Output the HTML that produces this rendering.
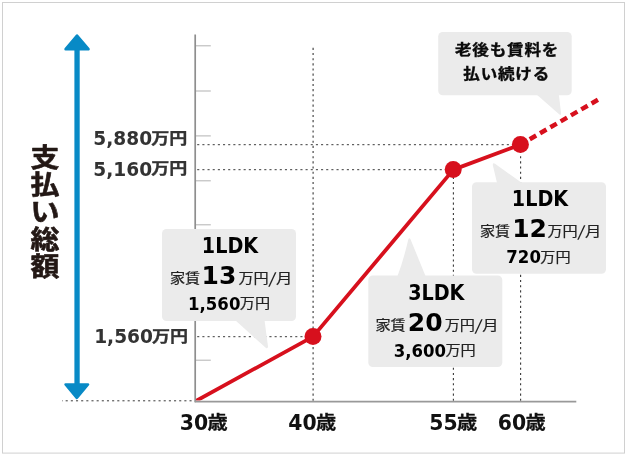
<!DOCTYPE html>
<html lang="ja">
<head>
<meta charset="utf-8">
<title>支払い総額</title>
<style>
html,body{margin:0;padding:0;background:#fff;}
body{width:627px;height:456px;overflow:hidden;}
svg{display:block;}
text{font-family:"DejaVu Sans","Noto Sans CJK JP",sans-serif;}
.lbl{font-weight:bold;font-size:18.6px;fill:#333;}
.lblj{font-family:"Noto Sans CJK JP",sans-serif;font-weight:bold;font-size:16px;fill:#333;stroke:#333;stroke-width:0.3px;}
.age{font-weight:bold;font-size:20.4px;fill:#111;}
.agej{font-family:"Noto Sans CJK JP",sans-serif;font-weight:bold;font-size:18.2px;fill:#111;stroke:#111;stroke-width:0.3px;}
.vt{font-family:"Noto Sans CJK JP",sans-serif;font-weight:bold;font-size:25.6px;fill:#231815;stroke:#231815;stroke-width:0.6px;stroke-linejoin:round;}
.h{font-weight:bold;font-size:20.8px;fill:#000;}
.r{font-family:"Noto Sans CJK JP","DejaVu Sans",sans-serif;font-size:13.4px;fill:#222;stroke:#222;stroke-width:0.2px;}
.sl{font-size:17.5px;fill:#222;}
.big{font-weight:bold;font-size:25.4px;fill:#000;}
.t{font-weight:bold;font-size:17.6px;fill:#000;}
.note{font-family:"Noto Sans CJK JP",sans-serif;font-weight:bold;font-size:14.6px;letter-spacing:0.7px;fill:#0a0a0a;stroke:#0a0a0a;stroke-width:0.35px;}
</style>
</head>
<body>
<svg width="627" height="456" viewBox="0 0 627 456">
  <rect x="0" y="0" width="627" height="456" fill="#fff"/>
  <rect x="2.5" y="2.5" width="622" height="450.6" fill="#fff" stroke="#d0d0d0" stroke-width="1"/>

  <!-- blue arrow -->
  <g fill="#088ac6">
    <rect x="74.4" y="48" width="5.3" height="338"/>
    <path d="M77 35.6 L88.5 49.2 L65.6 49.2 Z" stroke="#088ac6" stroke-width="2.6" stroke-linejoin="round"/>
    <path d="M76.8 397.8 L88 384.5 L65.6 384.5 Z" stroke="#088ac6" stroke-width="2.6" stroke-linejoin="round"/>
  </g>

  <!-- vertical title -->
  <g class="vt" text-anchor="middle" transform="translate(45 0) scale(1.13 1)">
    <text x="0" y="166.8">支</text>
    <text x="0" y="194.1">払</text>
    <text x="0" y="221.4">い</text>
    <text x="0" y="248.7">総</text>
    <text x="0" y="276.0">額</text>
  </g>

  <!-- ticks -->
  <g stroke="#b9b9b9" stroke-width="1.1">
    <line x1="196" y1="45.8" x2="210.8" y2="45.8"/>
    <line x1="196" y1="91.0" x2="210.8" y2="91.0"/>
    <line x1="196" y1="135.9" x2="210.8" y2="135.9"/>
    <line x1="196" y1="180.8" x2="210.8" y2="180.8"/>
    <line x1="196" y1="224.8" x2="210.8" y2="224.8"/>
    <line x1="196" y1="270.4" x2="210.8" y2="270.4"/>
    <line x1="196" y1="315.3" x2="210.8" y2="315.3"/>
    <line x1="196" y1="360.2" x2="210.8" y2="360.2"/>
  </g>

  <!-- dotted guides -->
  <g stroke="#3a3a3a" stroke-width="1" stroke-dasharray="2.1 3.06" fill="none">
    <line x1="191.6" y1="400.8" x2="62" y2="400.8"/>
    <line x1="197.2" y1="336.7" x2="313" y2="336.7"/>
    <line x1="197.2" y1="169.7" x2="453" y2="169.7"/>
    <line x1="197.2" y1="144.7" x2="520" y2="144.7"/>
    <line x1="313.1" y1="400.8" x2="313.1" y2="47.2" stroke-width="1.12"/>
    <line x1="453.4" y1="400.8" x2="453.4" y2="169" stroke-width="1.12"/>
    <line x1="520.6" y1="400.8" x2="520.6" y2="144" stroke-width="1.12"/>
  </g>

  <!-- red line -->
  <clipPath id="plot"><rect x="196.0" y="0" width="431" height="400.6"/></clipPath>
  <g stroke="#d7101d" fill="none" stroke-linecap="butt" stroke-linejoin="round">
    <polyline clip-path="url(#plot)" points="195.2,401.4 313,336.6 453.4,169.6 520.4,144.6" stroke-width="3.8"/>
    <line x1="520.4" y1="144.6" x2="597.9" y2="99.8" stroke-width="4.5" stroke-dasharray="7.4 4.5" stroke-dashoffset="-10.8"/>
  </g>
  <!-- axes -->
  <line x1="195.2" y1="34.5" x2="195.2" y2="402.3" stroke="#8e8e8e" stroke-width="1.7"/>
  <line x1="194.8" y1="401.7" x2="576.3" y2="401.7" stroke="#999" stroke-width="1.8"/>

  <g fill="#d7101d">
    <circle cx="313" cy="336.6" r="8.5"/>
    <circle cx="453.2" cy="169.6" r="8.5"/>
    <circle cx="520.4" cy="144.6" r="8.5"/>
  </g>

  <!-- callout shapes -->
  <g fill="#ebebeb">
    <rect x="162" y="229" width="134" height="92" rx="4.5"/>
    <path d="M235 320 L264.5 320 L268 346.5 Q268 349 266 348 Z"/>
    <rect x="368.3" y="275.4" width="134" height="91.6" rx="4.5"/>
    <path d="M397.5 276 Q403 262 408.3 239.5 Q409.4 237 410.6 239.5 L425.5 276 Z"/>
    <rect x="472" y="182.2" width="134" height="91.5" rx="4.5"/>
    <path d="M497 183 L492.8 165 Q492.6 162.5 495 163.8 L522 183 Z"/>
    <rect x="438.2" y="32" width="133.5" height="63.3" rx="4.5"/>
    <path d="M537.2 95 L558.9 95 L561.1 113.6 Q561.3 115.8 559.4 114.5 Z"/>
  </g>

  <!-- y labels -->
  <text class="lbl" x="152.20" y="145.20" text-anchor="end">5,880</text>
  <text class="lblj" transform="translate(151.20 143.80) scale(1.13 1)">万円</text>
  <text class="lbl" x="152.20" y="175.70" text-anchor="end">5,160</text>
  <text class="lblj" transform="translate(151.20 174.30) scale(1.13 1)">万円</text>
  <text class="lbl" x="153.00" y="343.40" text-anchor="end">1,560</text>
  <text class="lblj" transform="translate(152.00 342.00) scale(1.13 1)">万円</text>

  <!-- x labels -->
  <text class="age" x="179.80" y="429.90">30</text>
  <text class="agej" transform="translate(207.60 429.40) scale(1.11 1)">歳</text>
  <text class="age" x="288.30" y="429.90">40</text>
  <text class="agej" transform="translate(316.10 429.40) scale(1.11 1)">歳</text>
  <text class="age" x="429.30" y="429.90">55</text>
  <text class="agej" transform="translate(457.10 429.40) scale(1.11 1)">歳</text>
  <text class="age" x="497.80" y="429.90">60</text>
  <text class="agej" transform="translate(525.60 429.40) scale(1.11 1)">歳</text>

  <!-- callout 1 -->
  <text class="h" transform="translate(230.00 252.50) scale(0.922 1)" text-anchor="middle">1LDK</text>
  <text class="r" transform="translate(169.90 282.60) scale(1.13 1)">家賃</text>
  <text class="big" transform="translate(201.50 283.90) scale(0.985 1)">13</text>
  <text class="r" transform="translate(238.40 282.60) scale(1.13 1)">万円</text>
  <text class="sl" transform="translate(268.40 284.80) skewX(-9)">/</text>
  <text class="r" transform="translate(276.00 282.60) scale(1.22 1)">月</text>
  <text class="t" transform="translate(240.40 309.50) scale(0.94 1)" text-anchor="end">1,560</text>
  <text class="r" transform="translate(239.80 308.30) scale(1.13 1)">万円</text>

  <!-- callout 2 -->
  <text class="h" transform="translate(436.30 299.60) scale(0.922 1)" text-anchor="middle">3LDK</text>
  <text class="r" transform="translate(375.50 329.70) scale(1.13 1)">家賃</text>
  <text class="big" transform="translate(407.80 331.00) scale(0.985 1)">20</text>
  <text class="r" transform="translate(444.70 329.70) scale(1.13 1)">万円</text>
  <text class="sl" transform="translate(474.70 331.90) skewX(-9)">/</text>
  <text class="r" transform="translate(482.30 329.70) scale(1.22 1)">月</text>
  <text class="t" transform="translate(446.10 356.60) scale(0.94 1)" text-anchor="end">3,600</text>
  <text class="r" transform="translate(445.50 355.40) scale(1.13 1)">万円</text>

  <!-- callout 3 -->
  <text class="h" transform="translate(540.00 205.70) scale(0.922 1)" text-anchor="middle">1LDK</text>
  <text class="r" transform="translate(479.90 235.80) scale(1.13 1)">家賃</text>
  <text class="big" transform="translate(512.20 237.10) scale(0.985 1)">12</text>
  <text class="r" transform="translate(547.40 235.80) scale(1.13 1)">万円</text>
  <text class="sl" transform="translate(577.40 238.00) skewX(-9)">/</text>
  <text class="r" transform="translate(585.00 235.80) scale(1.22 1)">月</text>
  <text class="t" transform="translate(540.90 263.30) scale(0.94 1)" text-anchor="end">720</text>
  <text class="r" transform="translate(540.30 262.10) scale(1.13 1)">万円</text>

  <!-- note -->
  <text class="note" transform="translate(455.00 55.20) scale(1.135 1)">老後も賃料を</text>
  <text class="note" transform="translate(463.30 79.10) scale(1.135 1)">払い続ける</text>
</svg>
</body>
</html>
